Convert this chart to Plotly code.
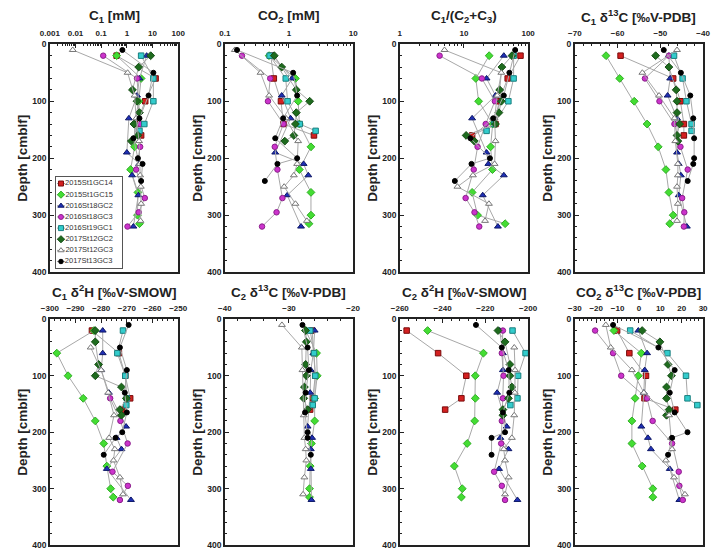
import plotly.graph_objects as go

# ---------------- data ----------------
CORES = ["2015St1GC14", "2015St1GC15", "2016St18GC2", "2016St18GC3",
         "2016St19GC1", "2017St12GC2", "2017St12GC3", "2017St13GC3"]

DEPTH = {
    "2015St1GC14": [20, 60, 100, 140, 160],
    "2015St1GC15": [20, 60, 100, 140, 180, 220, 260, 300, 315],
    "2016St18GC2": [20, 60, 90, 130, 190, 210, 230, 265, 320],
    "2016St18GC3": [20, 60, 100, 140, 180, 220, 270, 295, 320],
    "2016St19GC1": [20, 60, 100, 140, 152],
    "2017St12GC2": [20, 40, 80, 100, 120, 140, 160, 170],
    "2017St12GC3": [10, 50, 90, 130, 170, 210, 230, 250, 280, 310],
    "2017St13GC3": [10, 50, 90, 130, 165, 200, 210, 240],
}

C1_MM = {
    "2015St1GC14": [0.4, 13.2, 5.2, 2.3, 3.6],
    "2015St1GC15": [0.4, 3.6, 2.9, 2.0, 2.0, 1.4, 2.7, 2.6, 3.1],
    "2016St18GC2": [5.9, 3.1, 2.5, 1.2, 1.0, 3.0, 1.6, 2.8, 1.8],
    "2016St18GC3": [0.12, 2.5, None, 3.3, 3.3, 2.3, 5.0, 2.9, 1.06],
    "2016St19GC1": [3.6, 10.8, 10.8, 4.8, 3.1],
    "2017St12GC2": [8.5, 2.9, 1.65, 2.5, 3.1, 1.9, 2.7, 1.5],
    "2017St12GC3": [0.0078, 1.07, 2.0, 2.3, 3.0, 3.2, 3.3, 3.5, 3.6, 3.4],
    "2017St13GC3": [0.67, 10.8, 7.0, 3.1, 1.8, 2.7, 4.1, 3.6],
}

CO2_MM = {
    "2015St1GC14": [0.52, 0.58, 0.75, 0.82, 2.45],
    "2015St1GC15": [0.49, 1.26, 1.39, 1.45, 2.2, 1.45, 2.2, 2.2, 2.05],
    "2016St18GC2": [0.56, 1.12, 0.77, 1.06, 0.61, 1.69, 2.0, 0.94, 1.54],
    "2016St18GC3": [0.185, 0.51, 0.47, 0.82, 0.6, 0.66, 0.79, 0.64, 0.38],
    "2016St19GC1": [0.5, 0.89, 0.95, 1.47, 2.6],
    "2017St12GC2": [0.59, 0.77, 1.3, 2.1, 1.3, 1.26, 1.19, 0.86],
    "2017St12GC3": [0.143, 0.36, 0.49, 0.9, 1.39, 1.34, 1.19, 0.84, 1.26, 1.9],
    "2017St13GC3": [0.155, 1.16, 1.34, 0.81, 0.61, 1.34, 0.66, 0.42],
}

C1_RATIO = {
    "2015St1GC14": [76, 48, 35, 31, 13.4],
    "2015St1GC15": [24.7, 15.3, 16.9, 28, 26, 27.8, 13.4, 16.3, 43.8],
    "2016St18GC2": [41.8, 22.5, 31, 13.4, 22.5, 24, 41.8, 19.6, 33.8],
    "2016St18GC3": [4.17, 19, 30.3, 21.8, 16.3, 14.2, 10.6, 14.6, 17.3],
    "2016St19GC1": [59.4, 59.4, 49.2, 29.5, 22.5],
    "2017St12GC2": [56, 39, 36, 38.2, 35, 31, 10.8, 14.5],
    "2017St12GC3": [4.97, 38.2, 33, 30, 31, 30, 13.8, 7.9, 24.5, 21.3],
    "2017St13GC3": [62.8, 51, 41.8, 28.5, 12.6, 25.4, 13.1, 7.2],
}

C1_D13C = {
    "2015St1GC14": [-59.3, -47.0, -45.3, -44.5, -44.5],
    "2015St1GC15": [-62.7, -59.5, -56.1, -53.1, -50.5, -48.7, -48.0, -47.0, -47.8],
    "2016St18GC2": [-48.0, -47.7, -48.3, -46.1, -46.1, -45.7, -45.2, -45.7, -43.8],
    "2016St18GC3": [-48.0, -53.6, -50.2, -46.7, -45.3, -43.6, -44.9, -44.4, -44.5],
    "2016St19GC1": [-46.8, -44.8, -43.9, -42.7, -42.7],
    "2017St12GC2": [-51.1, -48.0, -46.3, -46.1, -46.1, -45.5, -46.1, -45.9],
    "2017St12GC3": [-46.1, -54.2, -50.3, -46.7, -46.5, -45.9, -45.9, -46.1, -45.9, -46.1],
    "2017St13GC3": [-49.2, -45.2, -43.0, -42.3, -42.1, -42.1, -42.3, -43.6],
}

C1_D2H = {
    "2015St1GC14": [-283.6, -273.1, -270.6, -268.7, -271.8],
    "2015St1GC15": [-282.8, -297.3, -292.9, -287.0, -282.3, -279.0, -277.8, -276.3, -275.3],
    "2016St18GC2": [-279.4, -279.4, -280.0, -277.0, -270.3, -274.0, -272.1, -277.8, -268.4],
    "2016St18GC3": [None, None, None, -276.5, -272.5, -269.7, -275.6, -269.6, -272.7],
    "2016St19GC1": [-271.5, -273.7, -270.6, -270.0, -270.2],
    "2017St12GC2": [-282.3, -282.3, -281.0, -282.3, -272.1, -270.2, -272.7, -272.1],
    "2017St12GC3": [None, -284.1, -280.0, -277.3, -275.0, -276.9, -274.7, -275.2, -272.7, -271.5],
    "2017St13GC3": [-269.3, -272.7, -270.0, -270.8, -270.0, -271.8, -274.4, -279.0],
}

C2_D13C = {
    "2015St1GC14": [-26.4, -26.1, -25.9, -26.3, -26.7],
    "2015St1GC15": [-27.4, -25.7, -25.6, -26.0, -26.0, -26.5, -26.7, -26.8, -26.8],
    "2016St18GC2": [-26.0, -26.2, -26.6, -26.7, -27.1, -26.4, -26.6, -26.6, -26.5],
    "2016St18GC3": [None] * 9,
    "2016St19GC1": [-26.7, -26.1, -25.9, -26.0, -26.3],
    "2017St12GC2": [-27.4, -27.3, -27.4, -27.3, -27.6, -27.7, -27.1, None],
    "2017St12GC3": [-31.1, -28.0, -27.9, None, -27.7, -27.6, -27.4, -27.3, -27.6, -27.8],
    "2017St13GC3": [-27.9, -27.1, -26.9, -27.4, -27.5, -27.1, -27.1, -26.6],
}

C2_D2H = {
    "2015St1GC14": [-256.8, -242.1, -228.9, -231.2, -238.8],
    "2015St1GC15": [-247.0, -220.9, -224.7, -224.7, -225.0, -228.5, -234.5, -230.8, -231.2],
    "2016St18GC2": [-213.3, -211.8, -211.8, -214.5, -210.0, -213.0, -209.2, -213.6, -205.0],
    "2016St18GC3": [-211.8, -212.3, -211.5, -211.8, -212.3, -212.6, -215.9, -212.3, -210.8],
    "2016St19GC1": [-207.3, -201.2, -204.7, -205.0, -208.3],
    "2017St12GC2": [-214.1, -210.8, -208.5, -208.5, -207.6, -209.2, -211.8, -211.8],
    "2017St12GC3": [None, -206.5, -206.1, -206.2, -206.5, -207.6, -211.4, -210.8, -209.1, -210.8],
    "2017St13GC3": [-224.4, -212.3, -209.1, -208.8, -211.8, -210.8, -217.1, -217.1],
}

CO2_D13C = {
    "2015St1GC14": [-10.2, -4.5, 3.3, 2.6, 17.0],
    "2015St1GC15": [-11.7, 1.1, -0.3, -1.8, -3.3, -3.3, 1.5, 6.5, 6.5],
    "2016St18GC2": [-0.3, 3.8, 2.7, 2.3, 1.1, 4.2, 5.6, 14.4, 18.9],
    "2016St18GC3": [-20.5, -12.1, -8.3, 3.8, 6.4, 15.5, 18.6, 18.9, 20.5],
    "2016St19GC1": [-4.1, 13.3, 22.0, 22.7, 27.3],
    "2017St12GC2": [1.5, 9.8, 13.6, 15.2, 12.9, 12.9, 14.1, 12.9],
    "2017St12GC3": [-15.5, -13.2, -3.3, 2.3, 14.1, 15.0, 15.5, 12.6, 16.4, 21.5],
    "2017St13GC3": [-12.1, 9.1, 16.7, 14.4, 16.7, 22.7, 15.5, 13.6],
}

# ---------------- styles ----------------
STYLE = {
    "2015St1GC14": dict(color="#d42020", symbol="square", line="#7a0c0c", size=5.5),
    "2015St1GC15": dict(color="#44dd33", symbol="diamond", line="#2fae25", size=6),
    "2016St18GC2": dict(color="#1f2fb5", symbol="triangle-up", line="#0d1766", size=6),
    "2016St18GC3": dict(color="#cc33cc", symbol="circle", line="#8a1f8a", size=5.5),
    "2016St19GC1": dict(color="#33cccc", symbol="square", line="#1a7f7f", size=5.5),
    "2017St12GC2": dict(color="#1e6b1e", symbol="diamond", line="#154d15", size=6),
    "2017St12GC3": dict(color="#ffffff", symbol="triangle-up", line="#777777", size=6),
    "2017St13GC3": dict(color="#000000", symbol="circle", line="#000000", size=5),
}

FONT = "Liberation Sans, Arial, sans-serif"
W, H = 717, 558
COL_LEFT = [41, 221, 401, 581]
PW = 132
ROWS = [(40, 272), (320, 550)]


def log_minor(lo, hi):
    vals = []
    for k in range(lo, hi):
        for m in range(2, 10):
            vals.append(m * 10 ** k)
    return vals


PANELS = [
    ("C<sub>1</sub> [mM]", C1_MM, "log", [-3, 2],
     [0.001, 0.01, 0.1, 1, 10, 100], ["0.001", "0.01", "0.1", "1", "10", "100"], log_minor(-3, 2)),
    ("CO<sub>2</sub> [mM]", CO2_MM, "log", [-1, 1],
     [0.1, 1, 10], ["0.1", "1", "10"], log_minor(-1, 1)),
    ("C<sub>1</sub>/(C<sub>2</sub>+C<sub>3</sub>)", C1_RATIO, "log", [0, 2],
     [1, 10, 100], ["1", "10", "100"], log_minor(0, 2)),
    ("C<sub>1</sub> δ<sup>13</sup>C [‰V-PDB]", C1_D13C, "linear", [-70, -40],
     [-70, -60, -50, -40], None, 2),
    ("C<sub>1</sub> δ<sup>2</sup>H [‰V-SMOW]", C1_D2H, "linear", [-300, -250],
     [-300, -290, -280, -270, -260, -250], None, 2),
    ("C<sub>2</sub> δ<sup>13</sup>C [‰V-PDB]", C2_D13C, "linear", [-40, -20],
     [-40, -30, -20], None, 2),
    ("C<sub>2</sub> δ<sup>2</sup>H [‰V-SMOW]", C2_D2H, "linear", [-260, -200],
     [-260, -240, -220, -200], None, 4),
    ("CO<sub>2</sub> δ<sup>13</sup>C [‰V-PDB]", CO2_D13C, "linear", [-30, 30],
     [-30, -20, -10, 0, 10, 20, 30], None, 2),
]

fig = go.Figure()
layout = dict(
    width=W, height=H, margin=dict(l=0, r=0, t=0, b=0),
    paper_bgcolor="white", plot_bgcolor="white", showlegend=False,
    font=dict(family=FONT, color="#222"),
)
annotations = []

for i, (title, data, atype, rng, tvals, ttext, minor) in enumerate(PANELS):
    r, c = divmod(i, 4)
    x0 = COL_LEFT[c] / W
    x1 = (COL_LEFT[c] + PW) / W
    y0 = 1 - ROWS[r][1] / H
    y1 = 1 - ROWS[r][0] / H
    n = i + 1
    xa = "xaxis" if n == 1 else f"xaxis{n}"
    ya = "yaxis" if n == 1 else f"yaxis{n}"
    xref = "x" if n == 1 else f"x{n}"
    yref = "y" if n == 1 else f"y{n}"

    xdict = dict(
        domain=[x0, x1], anchor=yref, type=atype, range=rng, side="top",
        tickvals=tvals, showgrid=False, zeroline=False,
        showline=True, mirror=True, linecolor="#222", linewidth=1.5,
        ticks="inside", ticklen=4, tickcolor="#222",
        tickfont=dict(family=FONT, size=8, weight="bold", color="#222"),
        ticklabelstandoff=3,
    )
    if ttext is not None:
        xdict["ticktext"] = ttext
    if isinstance(minor, list):
        xdict["minor"] = dict(tickvals=minor, ticks="inside", ticklen=2, tickcolor="#222", showgrid=False)
    else:
        xdict["minor"] = dict(dtick=minor, ticks="inside", ticklen=2, tickcolor="#222", showgrid=False)
    ydict = dict(
        domain=[y0, y1], anchor=xref, range=[400, 0],
        tickvals=[0, 100, 200, 300, 400], showgrid=False, zeroline=False,
        showline=True, mirror=True, linecolor="#222", linewidth=1.5,
        ticks="inside", ticklen=4, tickcolor="#222",
        minor=dict(dtick=20, ticks="inside", ticklen=2, tickcolor="#222", showgrid=False),
        tickfont=dict(family=FONT, size=8.5, weight="bold", color="#222"),
    )
    layout[xa] = xdict
    layout[ya] = ydict

    for core in CORES:
        vals = data[core]
        if all(v is None for v in vals):
            continue
        st = STYLE[core]
        fig.add_trace(go.Scatter(
            x=vals, y=DEPTH[core], xaxis=xref, yaxis=yref,
            mode="lines+markers", connectgaps=True, name=core,
            line=dict(color="#a8a8a8", width=1),
            marker=dict(color=st["color"], symbol=st["symbol"], size=st["size"],
                        line=dict(color=st["line"], width=1)),
            cliponaxis=False, showlegend=False,
        ))

    # panel title
    annotations.append(dict(
        text=f"<b>{title}</b>", x=(COL_LEFT[c] + PW / 2) / W, y=1 - (12 if r == 0 else 292) / H,
        xref="paper", yref="paper", showarrow=False, xanchor="center", yanchor="middle",
        font=dict(family=FONT, size=13.5, color="#222"),
    ))
    # depth label
    annotations.append(dict(
        text="<b>Depth [cmblf]</b>",
        x=(13 if c == 0 else COL_LEFT[c] - 28) / W, y=1 - (sum(ROWS[r]) / 2) / H,
        xref="paper", yref="paper", showarrow=False, textangle=-90,
        xanchor="center", yanchor="middle",
        font=dict(family=FONT, size=13.5, color="#222"),
    ))

# ---------------- legend (inside first panel) ----------------
LX0, LX1, LY0, LY1 = 47, 115, 175, 268
layout["xaxis9"] = dict(domain=[LX0 / W, LX1 / W], anchor="y9", range=[0, 1],
                        showline=True, mirror=True, linecolor="#555", linewidth=1,
                        showticklabels=False, ticks="", showgrid=False, zeroline=False)
layout["yaxis9"] = dict(domain=[1 - LY1 / H, 1 - LY0 / H], anchor="x9", range=[7.6, -0.6],
                        showline=True, mirror=True, linecolor="#555", linewidth=1,
                        showticklabels=False, ticks="", showgrid=False, zeroline=False)
for k, core in enumerate(CORES):
    st = STYLE[core]
    fig.add_trace(go.Scatter(
        x=[0.08], y=[k], xaxis="x9", yaxis="y9", mode="markers+text",
        text=[core], textposition="middle right",
        textfont=dict(family=FONT, size=7.5, color="#333"),
        marker=dict(color=st["color"], symbol=st["symbol"], size=st["size"] - 0.5,
                    line=dict(color=st["line"], width=1)),
        error_x=dict(type="constant", value=0.06, color="#999", thickness=1, width=0),
        showlegend=False, hoverinfo="skip",
    ))

layout["annotations"] = annotations
fig.update_layout(**layout)
fig.write_html("out.html")
